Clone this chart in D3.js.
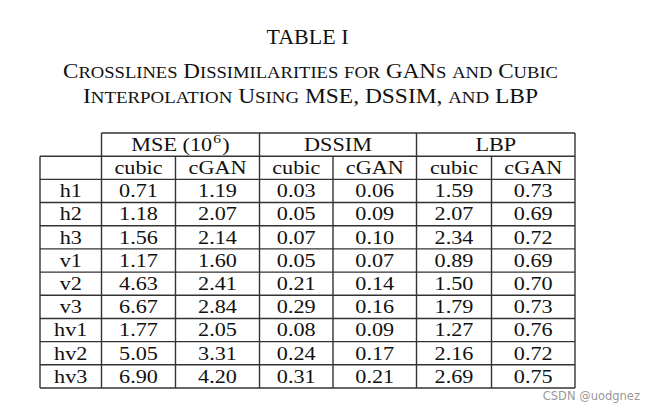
<!DOCTYPE html>
<html>
<head>
<script src="https://d3js.org/d3.v7.min.js"></script>
<style>
body { margin: 0; background: #fff; }
svg text { font-family: "Liberation Serif", "Times New Roman", serif; fill: #111; }
</style>
</head>
<body>
<div id="chart"></div>
<script>
// table contents
var tableTitle = "TABLE I";
var captionLines = ["Crosslines Dissimilarities for GANs and Cubic",
                    "Interpolation Using MSE, DSSIM, and LBP"];
var rowLabels = ["h1", "h2", "h3", "v1", "v2", "v3", "hv1", "hv2", "hv3"];
var metricNames = ["MSE", "DSSIM", "LBP"];
var methodNames = ["cubic", "cGAN"];
var mseCubic   = [0.71, 1.18, 1.56, 1.17, 4.63, 6.67, 1.77, 5.05, 6.90];
var mseCgan    = [1.19, 2.07, 2.14, 1.60, 2.41, 2.84, 2.05, 3.31, 4.20];
var dssimCubic = [0.03, 0.05, 0.07, 0.05, 0.21, 0.29, 0.08, 0.24, 0.31];
var dssimCgan  = [0.06, 0.09, 0.10, 0.07, 0.14, 0.16, 0.09, 0.17, 0.21];
var lbpCubic   = [1.59, 2.07, 2.34, 0.89, 1.50, 1.79, 1.27, 2.16, 2.69];
var lbpCgan    = [0.73, 0.69, 0.72, 0.69, 0.70, 0.73, 0.76, 0.72, 0.75];
var watermark = "CSDN @uodgnez";

var w = 654, h = 413;
var colWidths = [61.5, 74, 84, 73.5, 83.5, 75, 83.5];
var left = 40, top0 = 133, bottom = 388;
var fs = 18.5, sx = 1.2;

var svg = d3.select("#chart").append("svg").attr("width", w).attr("height", h);

var edges = [left].concat(Array.from(d3.cumsum(colWidths), function(d) { return left + d; }));
var cx = function(i) { return (edges[i] + edges[i + 1]) / 2; };
var nRows = rowLabels.length + 2;
var y = d3.scaleBand().domain(d3.range(nRows)).range([top0, bottom]);
var mid = (edges[0] + edges[edges.length - 1]) / 2;

// title
svg.append("text").attr("x", mid).attr("y", 44).attr("text-anchor", "middle")
    .attr("textLength", 82).attr("lengthAdjust", "spacingAndGlyphs")
    .style("font-size", "21.5px").text(tableTitle);

// caption in small caps, built from tspans
function smallCaps(t, str, big, small) {
    var runs = [];
    str.split("").forEach(function(ch) {
        var isLow = ch !== ch.toUpperCase();
        var size = isLow ? small : big;
        if (runs.length && runs[runs.length - 1].size === size) runs[runs.length - 1].s += ch.toUpperCase();
        else runs.push({ size: size, s: ch.toUpperCase() });
    });
    t.selectAll("tspan").data(runs).enter().append("tspan")
        .style("font-size", function(d) { return d.size + "px"; })
        .text(function(d) { return d.s; });
}
var capWidths = [495, 455];
captionLines.forEach(function(line, i) {
    var t = svg.append("text").attr("x", mid + 3).attr("y", 78 + i * 24.5).attr("text-anchor", "middle")
        .attr("textLength", capWidths[i]).attr("lengthAdjust", "spacingAndGlyphs");
    smallCaps(t, line, 20.5, 16.5);
});

// grid lines
var g = svg.append("g").attr("stroke", "#333").attr("stroke-width", 1.4).attr("fill", "none");
var lineData = [];
lineData.push([edges[1], top0, edges[7], top0]);
for (var r = 1; r <= nRows; r++) {
    var yy = r === nRows ? bottom : y(r);
    lineData.push([edges[0], yy, edges[7], yy]);
}
edges.forEach(function(x, i) {
    var fromTop = (i === 1 || i === 3 || i === 5 || i === 7);
    lineData.push([x, fromTop ? top0 : y(1), x, bottom]);
});
g.selectAll("line").data(lineData).enter().append("line")
    .attr("x1", function(d) { return d[0]; }).attr("y1", function(d) { return d[1]; })
    .attr("x2", function(d) { return d[2]; }).attr("y2", function(d) { return d[3]; });

var ty = function(r) { return y(r) + y.bandwidth() / 2 + fs * 0.34; };

// cell text, slightly widened like the scanned table
function cell(x, yy) {
    return svg.append("text")
        .attr("transform", "translate(" + x + "," + yy + ") scale(" + sx + ",1)")
        .attr("text-anchor", "middle").style("font-size", fs + "px");
}

// header row 1
metricNames.forEach(function(m, i) {
    var x = (edges[1 + i * 2] + edges[3 + i * 2]) / 2;
    var t = cell(x, ty(0));
    if (m === "MSE") {
        t.append("tspan").text("MSE (10");
        t.append("tspan").attr("dx", 1).attr("dy", -7.5).style("font-size", "13px").text("6");
        t.append("tspan").attr("dx", 1).attr("dy", 7.5).text(")");
    } else {
        t.text(m);
    }
});

// header row 2
d3.range(6).forEach(function(i) {
    cell(cx(i + 1), ty(1)).text(methodNames[i % 2]);
});

// body
var columns = [mseCubic, mseCgan, dssimCubic, dssimCgan, lbpCubic, lbpCgan];
var fmt = d3.format(".2f");
rowLabels.forEach(function(lab, r) {
    cell(cx(0), ty(r + 2)).text(lab);
    columns.forEach(function(col, c) {
        cell(cx(c + 1), ty(r + 2)).text(fmt(col[r]));
    });
});

svg.append("text").attr("x", 640).attr("y", 400).attr("text-anchor", "end")
    .style("font-family", "'DejaVu Sans', sans-serif").style("font-size", "11.5px")
    .style("fill", "#999").text(watermark);
</script>
</body>
</html>
